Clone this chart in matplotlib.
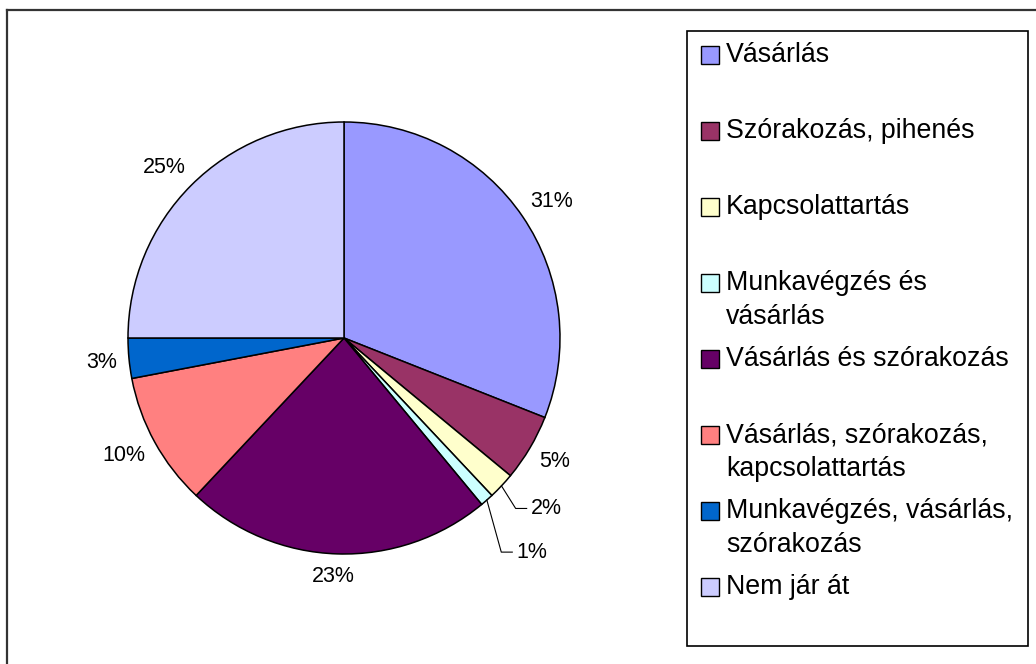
import matplotlib
matplotlib.use('Agg')
import matplotlib.pyplot as plt
import numpy as np
from matplotlib.patches import Rectangle
from matplotlib.lines import Line2D

# ---------------- data ----------------
categories = [
    "Vásárlás",
    "Szórakozás, pihenés",
    "Kapcsolattartás",
    "Munkavégzés és\nvásárlás",
    "Vásárlás és szórakozás",
    "Vásárlás, szórakozás,\nkapcsolattartás",
    "Munkavégzés, vásárlás,\nszórakozás",
    "Nem jár át",
]
values = [31, 5, 2, 1, 23, 10, 3, 25]
colors = ["#9999FF", "#993366", "#FFFFCC", "#CCFFFF",
          "#660066", "#FF8080", "#0066CC", "#CCCCFF"]
pct_labels = [f"{v}%" for v in values]

# ---------------- layout ----------------
plt.rcParams['font.family'] = ['Liberation Sans', 'DejaVu Sans']
W, H = 1036, 664
fig = plt.figure(figsize=(W / 100, H / 100), dpi=100)
fig.patch.set_facecolor('white')


def fx(x):
    return x / W


def fy(y):
    return 1 - y / H


# outer chart frame (top and left visible)
fig.add_artist(Line2D([fx(7), 1.0], [fy(10), fy(10)], color='#333333', lw=1.6))
fig.add_artist(Line2D([fx(7), fx(7)], [fy(10), 0.0], color='#333333', lw=1.6))

# pie axes
cx, cy, R = 344, 338, 216
ax = fig.add_axes([(cx - R) / W, (H - cy - R) / H, 2 * R / W, 2 * R / H])
wedges, _ = ax.pie(values, colors=colors, startangle=90, counterclock=False,
                   radius=1, wedgeprops=dict(edgecolor='black', linewidth=1.1))
ax.set_xlim(-1, 1)
ax.set_ylim(-1, 1)
ax.axis('off')

px = 1.0 / R  # one pixel in data units
fig.canvas.draw()
renderer = fig.canvas.get_renderer()

label_fs = 15.5
gap = 12
# leader-line settings for the thin slices (index: (elbow radius, angle nudge))
leaders = {2: (1.12, -1.6), 3: (1.23, -5.1)}

for i, w in enumerate(wedges):
    mid = np.deg2rad((w.theta1 + w.theta2) / 2)
    ux, uy = np.cos(mid), np.sin(mid)
    if i in leaders:
        er, nudge = leaders[i]
        a = mid + np.deg2rad(nudge)
        ex, ey = er * np.cos(a), er * np.sin(a)
        hx = ex + 11 * px
        ax.plot([ux, ex, hx], [uy, ey, ey], color='black', lw=0.8,
                clip_on=False)
        ax.text(hx + 4 * px, ey, pct_labels[i], fontsize=label_fs,
                ha='left', va='center', clip_on=False)
    else:
        t = ax.text(0, 0, pct_labels[i], fontsize=label_fs,
                    ha='center', va='center', clip_on=False)
        bb = t.get_window_extent(renderer)
        hw, hh = bb.width / 2, bb.height / 2
        ox = ux * gap + np.sign(ux) * abs(ux) ** 0.5 * hw
        oy = uy * gap + np.sign(uy) * abs(uy) ** 0.5 * hh
        t.set_position((ux + ox * px, uy + oy * px))

# legend box
fig.add_artist(Rectangle((fx(687), fy(645.5)), (1028 - 687) / W,
                         (645.5 - 31) / H, transform=fig.transFigure,
                         facecolor='white', edgecolor='black', lw=1.2,
                         zorder=1))

leg_fs = 19.3
y0, step, line_h = 55, 76, 34
for i, (lab, col) in enumerate(zip(categories, colors)):
    yc = y0 + i * step
    fig.add_artist(Rectangle((fx(701), fy(yc + 9)), 18 / W, 18 / H,
                             transform=fig.transFigure, facecolor=col,
                             edgecolor='black', lw=1.0, zorder=2))
    for k, line in enumerate(lab.split("\n")):
        fig.text(fx(726), fy(yc + k * line_h), line, fontsize=leg_fs,
                 ha='left', va='center', zorder=3)

fig.savefig('out.png', dpi=100, facecolor='white')
